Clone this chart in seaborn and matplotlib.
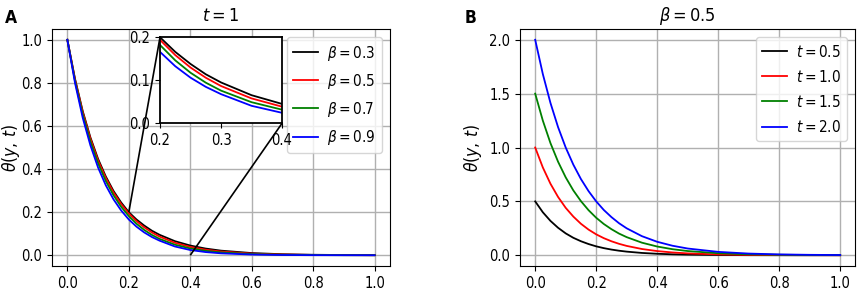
import matplotlib
matplotlib.use("Agg")
import matplotlib.pyplot as plt
import seaborn as sns
from mpl_toolkits.axes_grid1.inset_locator import mark_inset

# ---- data ----
y_vals = [0, 0.025, 0.05, 0.075, 0.1, 0.125, 0.15, 0.175, 0.2, 0.225, 0.25, 0.275,
          0.3, 0.35, 0.4, 0.45, 0.5, 0.6, 0.7, 0.8, 0.9, 1.0]

beta03 = [1.000, 0.818, 0.669, 0.547, 0.447, 0.366, 0.299, 0.245, 0.200, 0.166, 0.138, 0.114,
          0.095, 0.0654, 0.0451, 0.0311, 0.0214, 0.0102, 0.0048, 0.0023, 0.0011, 0.0005]
beta05 = [1.000, 0.815, 0.664, 0.541, 0.440, 0.359, 0.292, 0.238, 0.194, 0.1586, 0.1297, 0.106,
          0.0867, 0.0579, 0.0387, 0.0259, 0.0173, 0.0077, 0.0034, 0.0015, 0.0007, 0.0003]
beta07 = [1.000, 0.808, 0.653, 0.528, 0.427, 0.345, 0.279, 0.225, 0.182, 0.1463, 0.1176, 0.0945,
          0.0760, 0.0491, 0.0317, 0.0205, 0.0132, 0.0055, 0.0023, 0.0010, 0.0004, 0.0002]
beta09 = [1.000, 0.799, 0.638, 0.510, 0.407, 0.325, 0.260, 0.208, 0.166, 0.1327, 0.1061, 0.0848,
          0.0678, 0.0407, 0.0244, 0.0148, 0.0090, 0.0033, 0.0012, 0.0004, 0.0002, 0.0001]

t05 = [0.500, 0.399, 0.319, 0.255, 0.203, 0.162, 0.130, 0.104, 0.0826, 0.066, 0.0527, 0.0421,
       0.0336, 0.0214, 0.0137, 0.0087, 0.0056, 0.0023, 0.0009, 0.0004, 0.0002, 0.0001]
t10 = [1.000, 0.815, 0.664, 0.541, 0.440, 0.359, 0.292, 0.238, 0.194, 0.1586, 0.1297, 0.106,
       0.0867, 0.0579, 0.0387, 0.0259, 0.0173, 0.0077, 0.0034, 0.0015, 0.0007, 0.0003]
t15 = [1.500, 1.250, 1.041, 0.868, 0.723, 0.602, 0.502, 0.418, 0.348, 0.290, 0.242, 0.201,
       0.168, 0.1166, 0.0810, 0.0562, 0.0390, 0.0188, 0.0091, 0.0044, 0.0021, 0.0010]
t20 = [2.000, 1.682, 1.414, 1.189, 1.000, 0.841, 0.707, 0.595, 0.500, 0.420, 0.354, 0.297,
       0.250, 0.177, 0.125, 0.0884, 0.0625, 0.0313, 0.0156, 0.0078, 0.0039, 0.0020]

beta_labels = [r'$\beta = 0.3$', r'$\beta = 0.5$', r'$\beta = 0.7$', r'$\beta = 0.9$']
t_labels = [r'$t = 0.5$', r'$t = 1.0$', r'$t = 1.5$', r'$t = 2.0$']
colors = ['black', 'red', 'green', 'blue']

plt.rcParams['font.family'] = ['DejaVu Sans']
plt.rcParams['font.stretch'] = 'condensed'
plt.rcParams['mathtext.fontset'] = 'dejavusans'
plt.rcParams['xtick.labelsize'] = 10.5
plt.rcParams['ytick.labelsize'] = 10.5

fig = plt.figure(figsize=(8.58, 2.92), dpi=100)
axA = fig.add_axes([0.0606, 0.089, 0.3939, 0.8117])
axB = fig.add_axes([0.606, 0.089, 0.391, 0.8117])
axI = fig.add_axes([0.1865, 0.5777, 0.1422, 0.2946])

lw = 1.3
for series, lab, c in zip([beta03, beta05, beta07, beta09], beta_labels, colors):
    sns.lineplot(x=y_vals, y=series, color=c, label=lab, ax=axA, linewidth=lw)
    sns.lineplot(x=y_vals, y=series, color=c, ax=axI, linewidth=lw, legend=False)
for series, lab, c in zip([t05, t10, t15, t20], t_labels, colors):
    sns.lineplot(x=y_vals, y=series, color=c, label=lab, ax=axB, linewidth=lw)

for ax in (axA, axB):
    ax.grid(True, color='#b0b0b0', linewidth=1.0)
    ax.set_axisbelow(True)
    ax.set_xticks([0.0, 0.2, 0.4, 0.6, 0.8, 1.0])
    ax.set_ylabel(r'$\theta(y,\,t)$', fontsize=12.5)
    ax.set_xlabel('')

axA.yaxis.set_label_coords(-0.088, 0.5)
axB.yaxis.set_label_coords(-0.106, 0.5)

axA.set_yticks([0.0, 0.2, 0.4, 0.6, 0.8, 1.0])
axB.set_yticks([0.0, 0.5, 1.0, 1.5, 2.0])
axA.set_title(r'$t = 1$', fontsize=13)
axB.set_title(r'$\beta = 0.5$', fontsize=13)

leg_kw = dict(loc='upper right', fontsize=11, handlelength=1.6, handletextpad=0.6,
              labelspacing=0.6, borderaxespad=0.55, framealpha=0.8)
axA.legend(**leg_kw)
axB.legend(**leg_kw)

axI.set_xlim(0.2, 0.4)
axI.set_ylim(0.0, 0.2)
axI.set_xticks([0.2, 0.3, 0.4])
axI.set_yticks([0.0, 0.1, 0.2])
axI.set_facecolor('white')
for s in axI.spines.values():
    s.set_linewidth(1.3)

pp, p1, p2 = mark_inset(axA, axI, loc1=2, loc2=4, fc='none', ec='0.65', lw=1.0)
p1.set_edgecolor('black')
p2.set_edgecolor('black')
p1.set_linewidth(1.2)
p2.set_linewidth(1.2)

fig.text(0.006, 0.92, 'A', fontsize=12.5, fontweight='bold')
fig.text(0.542, 0.92, 'B', fontsize=12.5, fontweight='bold')

fig.savefig('out.png', dpi=100)
